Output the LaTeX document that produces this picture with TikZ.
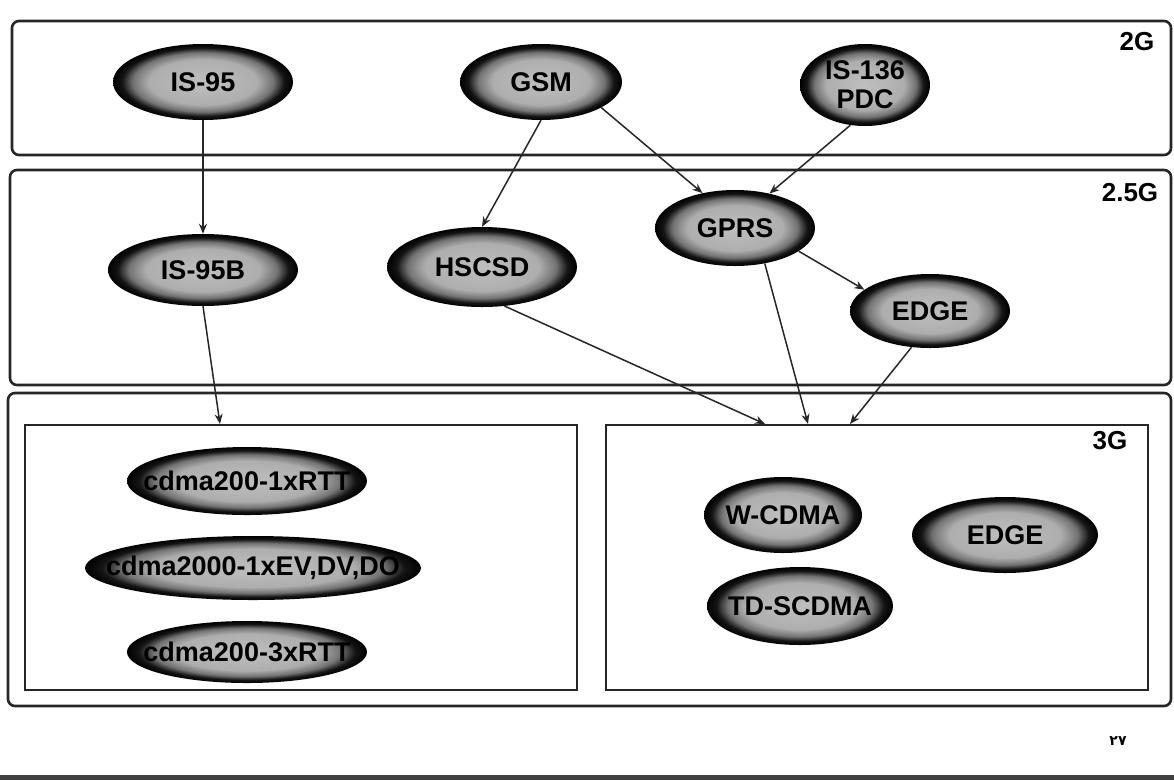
\documentclass[tikz,border=0pt]{standalone}
\usepackage{fontspec}
\setmainfont{Liberation Sans}
\newfontfamily\arabicfont[Script=Arabic]{DejaVu Sans}
\usetikzlibrary{shapes.geometric,arrows.meta}

\pgfdeclareradialshading{blob}{\pgfpoint{0bp}{0bp}}{color(0bp)=(black!25); color(15bp)=(black!32); color(19.5bp)=(black!55); color(22.5bp)=(black!92); color(25bp)=(black); color(50bp)=(black)}

\begin{document}
\begin{tikzpicture}
  [x=1pt,y=-1pt,
   gen/.style={ellipse,shading=blob,inner xsep=-40pt,inner ysep=-20pt,align=center,
     font=\fontsize{27}{29}\selectfont\bfseries},
   band/.style={draw=black!85,line width=2.6pt,rounded corners=7pt},
   inbox/.style={draw=black!85,line width=2pt},
   tag/.style={font=\fontsize{26}{28}\selectfont\bfseries},
   arr/.style={draw=black!85,line width=1.5pt,-{Stealth[length=10pt,width=8pt]}}]
  \useasboundingbox (0,0) rectangle (1174,780);

  % bands
  \draw[band] (12,21) rectangle (1171,155);
  \draw[band] (10,170) rectangle (1171,385);
  \draw[band] (8,393) rectangle (1171,706);
  \draw[inbox] (25,425) rectangle (577,690);
  \draw[inbox] (606,425) rectangle (1148,690);
  \fill[black!75] (0,775) rectangle (1174,780);

  \node[tag] (l2)  at (1137,42)  {2G};
  \node[tag] (l25) at (1130,193) {2.5G};
  \node[tag] (l3)  at (1110,441) {3G};
  \node (pg) at (1118,741) {\arabicfont\bfseries\fontsize{14}{15}\selectfont ۲۷};

  % 2G
  \node[gen,minimum width=180,minimum height=76] (is95)  at (203,82) {IS-95};
  \node[gen,minimum width=162,minimum height=76] (gsm)   at (541,82) {GSM};
  \node[gen,minimum width=130,minimum height=82] (is136) at (865,85) {IS-136\\PDC};

  % 2.5G
  \node[gen,minimum width=190,minimum height=72] (is95b)  at (203,270) {IS-95B};
  \node[gen,minimum width=190,minimum height=80] (hscsd)  at (482,267) {HSCSD};
  \node[gen,minimum width=160,minimum height=76] (gprs)   at (735,228) {GPRS};
  \node[gen,minimum width=160,minimum height=74] (edge25) at (930,311) {EDGE};

  % 3G
  \node[gen,minimum width=240,minimum height=68] (rtt1) at (247,481) {cdma200-1xRTT};
  \node[gen,minimum width=336,minimum height=64] (evdo) at (253,568) {cdma2000-1xEV,DV,DO};
  \node[gen,minimum width=240,minimum height=62] (rtt3) at (247,652) {cdma200-3xRTT};
  \node[gen,minimum width=158,minimum height=76] (wcdma)   at (783,515) {W-CDMA};
  \node[gen,minimum width=186,minimum height=76] (edge3)   at (1005,535) {EDGE};
  \node[gen,minimum width=186,minimum height=78] (tdscdma) at (800,606) {TD-SCDMA};

  \coordinate (t1) at (220,424);
  \coordinate (t2) at (765,424);
  \coordinate (t3) at (808,424);
  \coordinate (t4) at (850,424);

  \foreach \from/\to in {is95.south/is95b.north,gsm.south/hscsd.north,
      gsm.337/gprs.133,is136.250/gprs.45,gprs.340/edge25.162,
      is95b.south/t1,hscsd.300/t2,gprs.310/t3,edge25.243/t4}
    \draw[arr] (\from) -- (\to);

\end{tikzpicture}
\end{document}
